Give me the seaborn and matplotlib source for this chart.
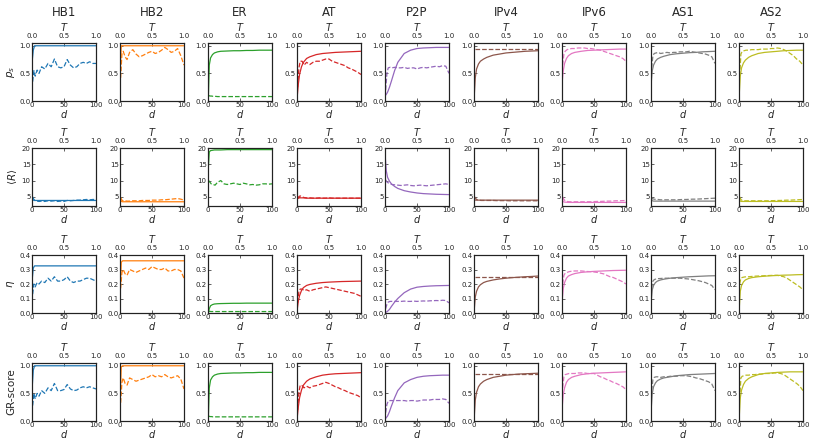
import matplotlib
matplotlib.use("Agg")
import matplotlib.pyplot as plt
import seaborn as sns

# sample positions: solid curves are plotted against T (top axis), dashed against d (bottom axis)
T_PTS = [0.005, 0.02, 0.04, 0.07, 0.1, 0.15, 0.2, 0.3, 0.4, 0.5, 0.6, 0.7, 0.8, 0.9, 1.0]
D_PTS = [1, 3, 5, 8, 11, 15, 20, 25, 30, 35, 40, 45, 50, 55, 60, 65, 70, 75, 80, 85, 90, 95, 100]

NETWORKS = ["HB1", "HB2", "ER", "AT", "P2P", "IPv4", "IPv6", "AS1", "AS2"]
YLABELS = ["$p_s$", r"$\langle R\rangle$", r"$\eta$", "GR-score"]

# HB1
hb1_ps_T = [0.75, 0.92, 1.0, 1.0, 1.0, 1.0, 1.0, 1.0, 1.0, 1.0, 1.0, 1.0, 1.0, 1.0, 1.0]
hb1_ps_d = [0.35, 0.55, 0.45, 0.56, 0.50, 0.62, 0.58, 0.68, 0.62, 0.76, 0.62, 0.60, 0.62, 0.75, 0.65, 0.60, 0.62, 0.68, 0.70, 0.68, 0.71, 0.68, 0.68]
hb1_R_T = [4.4, 4.0, 3.9, 3.9, 3.9, 3.9, 3.9, 3.9, 3.9, 3.9, 3.9, 3.9, 3.9, 3.9, 3.9]
hb1_R_d = [5.0, 4.2, 3.8, 3.7, 3.6, 3.7, 3.6, 3.8, 3.7, 3.8, 3.6, 3.7, 3.6, 3.9, 3.8, 3.9, 4.0, 4.0, 4.1, 4.2, 4.1, 4.2, 4.2]
hb1_eta_T = [0.24, 0.31, 0.325, 0.325, 0.325, 0.325, 0.325, 0.325, 0.325, 0.325, 0.325, 0.325, 0.325, 0.325, 0.325]
hb1_eta_d = [0.13, 0.20, 0.18, 0.21, 0.20, 0.22, 0.21, 0.24, 0.22, 0.25, 0.22, 0.22, 0.23, 0.25, 0.22, 0.21, 0.22, 0.22, 0.23, 0.24, 0.24, 0.23, 0.22]
hb1_gr_T = [0.65, 0.92, 1.0, 1.0, 1.0, 1.0, 1.0, 1.0, 1.0, 1.0, 1.0, 1.0, 1.0, 1.0, 1.0]
hb1_gr_d = [0.28, 0.50, 0.40, 0.50, 0.45, 0.55, 0.50, 0.60, 0.55, 0.68, 0.55, 0.55, 0.57, 0.66, 0.58, 0.55, 0.56, 0.60, 0.62, 0.60, 0.62, 0.60, 0.58]

# HB2
hb2_ps_T = [0.60, 1.0, 1.0, 1.0, 1.0, 1.0, 1.0, 1.0, 1.0, 1.0, 1.0, 1.0, 1.0, 1.0, 1.0]
hb2_ps_d = [0.42, 0.85, 0.90, 0.80, 0.75, 0.88, 0.93, 0.85, 0.80, 0.82, 0.85, 0.88, 0.90, 0.86, 0.88, 0.92, 0.97, 0.93, 0.88, 0.90, 0.95, 0.82, 0.65]
hb2_R_T = [4.5, 3.6, 3.5, 3.5, 3.5, 3.5, 3.5, 3.5, 3.5, 3.5, 3.5, 3.5, 3.5, 3.5, 3.5]
hb2_R_d = [4.8, 4.0, 3.8, 3.8, 3.7, 3.7, 3.8, 3.8, 3.8, 3.9, 3.9, 3.9, 4.0, 4.0, 4.0, 4.1, 4.1, 4.2, 4.3, 4.4, 4.5, 4.3, 4.0]
hb2_eta_T = [0.17, 0.35, 0.36, 0.36, 0.36, 0.36, 0.36, 0.36, 0.36, 0.36, 0.36, 0.36, 0.36, 0.36, 0.36]
hb2_eta_d = [0.17, 0.28, 0.30, 0.27, 0.26, 0.30, 0.29, 0.28, 0.29, 0.30, 0.31, 0.30, 0.32, 0.31, 0.30, 0.30, 0.31, 0.29, 0.29, 0.30, 0.30, 0.29, 0.24]
hb2_gr_T = [0.50, 0.98, 1.0, 1.0, 1.0, 1.0, 1.0, 1.0, 1.0, 1.0, 1.0, 1.0, 1.0, 1.0, 1.0]
hb2_gr_d = [0.33, 0.70, 0.78, 0.68, 0.65, 0.78, 0.75, 0.72, 0.74, 0.76, 0.78, 0.80, 0.84, 0.80, 0.82, 0.80, 0.84, 0.80, 0.78, 0.80, 0.82, 0.76, 0.58]

# ER
er_ps_T = [0.05, 0.65, 0.78, 0.84, 0.87, 0.89, 0.90, 0.905, 0.91, 0.91, 0.915, 0.915, 0.92, 0.92, 0.92]
er_ps_d = [0.10, 0.09, 0.09, 0.085, 0.085, 0.08, 0.08, 0.08, 0.08, 0.08, 0.08, 0.08, 0.08, 0.08, 0.08, 0.08, 0.08, 0.08, 0.08, 0.08, 0.08, 0.08, 0.08]
er_R_T = [14.0, 18.8, 19.2, 19.3, 19.4, 19.4, 19.4, 19.5, 19.5, 19.5, 19.5, 19.5, 19.5, 19.5, 19.5]
er_R_d = [10.0, 9.5, 9.0, 8.8, 8.6, 9.5, 10.0, 9.0, 8.8, 9.0, 9.2, 9.0, 8.8, 9.2, 9.0, 8.7, 8.8, 8.6, 8.7, 9.0, 9.0, 8.9, 9.0]
er_eta_T = [0.0, 0.03, 0.05, 0.058, 0.062, 0.064, 0.065, 0.066, 0.067, 0.067, 0.068, 0.068, 0.068, 0.068, 0.068]
er_eta_d = [0.012, 0.011, 0.01, 0.01, 0.01, 0.01, 0.01, 0.01, 0.01, 0.01, 0.01, 0.01, 0.01, 0.01, 0.01, 0.01, 0.01, 0.01, 0.01, 0.01, 0.01, 0.01, 0.01]
er_gr_T = [0.05, 0.60, 0.74, 0.80, 0.83, 0.85, 0.86, 0.865, 0.87, 0.87, 0.875, 0.875, 0.88, 0.88, 0.88]
er_gr_d = [0.09, 0.08, 0.08, 0.075, 0.075, 0.075, 0.075, 0.075, 0.075, 0.075, 0.075, 0.075, 0.075, 0.075, 0.075, 0.075, 0.075, 0.075, 0.075, 0.075, 0.075, 0.075, 0.075]

# AT
at_ps_T = [0.10, 0.30, 0.48, 0.62, 0.70, 0.77, 0.80, 0.84, 0.86, 0.87, 0.88, 0.885, 0.89, 0.895, 0.90]
at_ps_d = [0.25, 0.60, 0.72, 0.72, 0.65, 0.70, 0.66, 0.70, 0.72, 0.72, 0.74, 0.76, 0.76, 0.72, 0.70, 0.68, 0.66, 0.64, 0.60, 0.58, 0.55, 0.52, 0.48]
at_R_T = [4.4, 4.6, 4.7, 4.7, 4.7, 4.6, 4.6, 4.6, 4.6, 4.6, 4.6, 4.6, 4.6, 4.6, 4.6]
at_R_d = [4.5, 5.1, 5.3, 5.0, 4.8, 4.7, 4.7, 4.6, 4.6, 4.7, 4.6, 4.6, 4.7, 4.6, 4.6, 4.6, 4.6, 4.6, 4.6, 4.6, 4.6, 4.6, 4.6]
at_eta_T = [0.03, 0.08, 0.12, 0.155, 0.175, 0.19, 0.197, 0.205, 0.21, 0.213, 0.215, 0.217, 0.218, 0.219, 0.22]
at_eta_d = [0.07, 0.15, 0.165, 0.165, 0.155, 0.16, 0.15, 0.16, 0.165, 0.17, 0.175, 0.18, 0.175, 0.17, 0.165, 0.16, 0.155, 0.15, 0.145, 0.14, 0.135, 0.125, 0.115]
at_gr_T = [0.08, 0.25, 0.42, 0.56, 0.65, 0.72, 0.76, 0.80, 0.83, 0.845, 0.855, 0.86, 0.865, 0.87, 0.875]
at_gr_d = [0.20, 0.52, 0.65, 0.64, 0.60, 0.63, 0.60, 0.63, 0.64, 0.66, 0.68, 0.70, 0.68, 0.65, 0.62, 0.60, 0.57, 0.55, 0.52, 0.50, 0.48, 0.46, 0.42]

# P2P
p2p_ps_T = [0.10, 0.12, 0.16, 0.25, 0.36, 0.55, 0.70, 0.86, 0.92, 0.95, 0.96, 0.965, 0.97, 0.97, 0.97]
p2p_ps_d = [0.20, 0.50, 0.60, 0.61, 0.60, 0.61, 0.60, 0.60, 0.61, 0.59, 0.60, 0.60, 0.58, 0.60, 0.61, 0.60, 0.61, 0.62, 0.63, 0.62, 0.64, 0.63, 0.50]
p2p_R_T = [17.0, 13.0, 11.0, 9.8, 9.0, 8.2, 7.6, 6.9, 6.5, 6.2, 6.0, 5.9, 5.8, 5.75, 5.7]
p2p_R_d = [10.2, 9.6, 9.3, 9.0, 8.8, 8.7, 8.6, 8.5, 8.6, 8.7, 8.5, 8.4, 8.5, 8.6, 8.5, 8.4, 8.5, 8.6, 8.7, 8.8, 8.9, 9.0, 8.8]
p2p_eta_T = [0.003, 0.006, 0.012, 0.025, 0.045, 0.075, 0.10, 0.14, 0.165, 0.178, 0.183, 0.186, 0.188, 0.189, 0.19]
p2p_eta_d = [0.03, 0.06, 0.075, 0.08, 0.08, 0.08, 0.08, 0.08, 0.082, 0.08, 0.08, 0.082, 0.08, 0.082, 0.083, 0.082, 0.084, 0.085, 0.086, 0.085, 0.088, 0.086, 0.07]
p2p_gr_T = [0.04, 0.06, 0.09, 0.17, 0.27, 0.42, 0.55, 0.69, 0.75, 0.79, 0.81, 0.82, 0.825, 0.83, 0.83]
p2p_gr_d = [0.15, 0.30, 0.36, 0.37, 0.37, 0.37, 0.37, 0.37, 0.37, 0.36, 0.37, 0.37, 0.36, 0.37, 0.38, 0.38, 0.38, 0.39, 0.39, 0.39, 0.40, 0.39, 0.32]

# IPv4
ipv4_ps_T = [0.12, 0.42, 0.58, 0.67, 0.72, 0.76, 0.79, 0.83, 0.85, 0.87, 0.88, 0.89, 0.90, 0.905, 0.91]
ipv4_ps_d = [0.94, 0.94, 0.94, 0.94, 0.94, 0.94, 0.94, 0.94, 0.94, 0.94, 0.94, 0.94, 0.94, 0.94, 0.94, 0.94, 0.94, 0.94, 0.94, 0.94, 0.94, 0.94, 0.94]
ipv4_R_T = [4.3, 4.0, 4.0, 4.0, 4.0, 4.0, 4.0, 4.0, 4.0, 4.0, 4.0, 4.0, 4.0, 4.0, 4.0]
ipv4_R_d = [5.0, 4.4, 4.1, 4.0, 3.9, 3.9, 3.9, 3.9, 3.9, 3.85, 3.85, 3.85, 3.85, 3.8, 3.8, 3.8, 3.8, 3.8, 3.8, 3.8, 3.8, 3.8, 3.8]
ipv4_eta_T = [0.03, 0.11, 0.15, 0.18, 0.195, 0.21, 0.218, 0.228, 0.235, 0.24, 0.244, 0.247, 0.25, 0.252, 0.255]
ipv4_eta_d = [0.25, 0.25, 0.25, 0.25, 0.25, 0.25, 0.25, 0.25, 0.25, 0.25, 0.25, 0.25, 0.25, 0.25, 0.25, 0.25, 0.25, 0.25, 0.25, 0.25, 0.25, 0.25, 0.25]
ipv4_gr_T = [0.10, 0.38, 0.52, 0.62, 0.67, 0.72, 0.75, 0.79, 0.81, 0.83, 0.84, 0.85, 0.855, 0.86, 0.865]
ipv4_gr_d = [0.85, 0.85, 0.85, 0.85, 0.85, 0.85, 0.85, 0.85, 0.85, 0.85, 0.85, 0.85, 0.85, 0.85, 0.85, 0.85, 0.85, 0.85, 0.85, 0.85, 0.85, 0.85, 0.85]

# IPv6
ipv6_ps_T = [0.37, 0.55, 0.68, 0.77, 0.82, 0.86, 0.88, 0.90, 0.915, 0.92, 0.925, 0.93, 0.935, 0.94, 0.94]
ipv6_ps_d = [0.65, 0.85, 0.90, 0.93, 0.94, 0.95, 0.95, 0.96, 0.96, 0.96, 0.95, 0.95, 0.94, 0.93, 0.92, 0.90, 0.88, 0.86, 0.84, 0.82, 0.80, 0.77, 0.72]
ipv6_R_T = [4.2, 3.5, 3.4, 3.35, 3.3, 3.3, 3.3, 3.3, 3.3, 3.3, 3.3, 3.3, 3.3, 3.3, 3.3]
ipv6_R_d = [5.0, 4.2, 3.8, 3.6, 3.5, 3.5, 3.5, 3.5, 3.5, 3.5, 3.5, 3.5, 3.55, 3.6, 3.6, 3.65, 3.7, 3.7, 3.75, 3.8, 3.8, 3.85, 3.9]
ipv6_eta_T = [0.10, 0.17, 0.21, 0.24, 0.255, 0.265, 0.272, 0.28, 0.284, 0.287, 0.289, 0.291, 0.293, 0.294, 0.295]
ipv6_eta_d = [0.20, 0.26, 0.275, 0.28, 0.285, 0.288, 0.29, 0.29, 0.29, 0.288, 0.286, 0.285, 0.283, 0.28, 0.275, 0.27, 0.26, 0.25, 0.245, 0.235, 0.225, 0.215, 0.20]
ipv6_gr_T = [0.28, 0.48, 0.60, 0.70, 0.75, 0.79, 0.81, 0.84, 0.855, 0.865, 0.87, 0.875, 0.88, 0.885, 0.89]
ipv6_gr_d = [0.60, 0.80, 0.84, 0.85, 0.86, 0.86, 0.86, 0.87, 0.87, 0.87, 0.86, 0.86, 0.86, 0.83, 0.80, 0.78, 0.75, 0.73, 0.70, 0.68, 0.65, 0.62, 0.57]

# AS1
as1_ps_T = [0.35, 0.55, 0.65, 0.72, 0.76, 0.79, 0.81, 0.84, 0.855, 0.865, 0.875, 0.88, 0.89, 0.895, 0.90]
as1_ps_d = [0.60, 0.82, 0.86, 0.87, 0.88, 0.86, 0.87, 0.88, 0.87, 0.88, 0.88, 0.89, 0.89, 0.89, 0.90, 0.89, 0.88, 0.87, 0.86, 0.85, 0.83, 0.80, 0.68]
as1_R_T = [4.5, 3.8, 3.7, 3.7, 3.7, 3.7, 3.7, 3.7, 3.7, 3.7, 3.7, 3.7, 3.7, 3.7, 3.7]
as1_R_d = [4.8, 4.4, 4.3, 4.2, 4.2, 4.1, 4.1, 4.1, 4.1, 4.1, 4.1, 4.15, 4.2, 4.2, 4.25, 4.3, 4.3, 4.35, 4.4, 4.45, 4.5, 4.55, 4.6]
as1_eta_T = [0.09, 0.16, 0.19, 0.21, 0.22, 0.228, 0.233, 0.24, 0.244, 0.247, 0.25, 0.252, 0.254, 0.256, 0.257]
as1_eta_d = [0.17, 0.22, 0.23, 0.235, 0.237, 0.238, 0.24, 0.24, 0.24, 0.24, 0.24, 0.24, 0.238, 0.236, 0.234, 0.23, 0.226, 0.222, 0.216, 0.21, 0.20, 0.19, 0.16]
as1_gr_T = [0.25, 0.50, 0.62, 0.69, 0.73, 0.76, 0.78, 0.80, 0.82, 0.83, 0.84, 0.845, 0.85, 0.855, 0.86]
as1_gr_d = [0.55, 0.75, 0.79, 0.80, 0.80, 0.79, 0.80, 0.80, 0.81, 0.81, 0.81, 0.82, 0.82, 0.82, 0.81, 0.80, 0.78, 0.77, 0.75, 0.73, 0.71, 0.67, 0.55]

# AS2
as2_ps_T = [0.15, 0.45, 0.60, 0.69, 0.74, 0.79, 0.82, 0.86, 0.88, 0.89, 0.90, 0.91, 0.915, 0.92, 0.92]
as2_ps_d = [0.45, 0.85, 0.90, 0.91, 0.92, 0.92, 0.93, 0.93, 0.93, 0.94, 0.94, 0.94, 0.95, 0.95, 0.96, 0.95, 0.93, 0.90, 0.86, 0.82, 0.76, 0.72, 0.65]
as2_R_T = [4.3, 3.7, 3.6, 3.6, 3.6, 3.6, 3.6, 3.6, 3.6, 3.6, 3.6, 3.6, 3.6, 3.6, 3.6]
as2_R_d = [5.0, 4.2, 3.9, 3.8, 3.8, 3.8, 3.8, 3.8, 3.8, 3.8, 3.8, 3.8, 3.85, 3.85, 3.9, 3.9, 3.95, 4.0, 4.0, 4.05, 4.1, 4.15, 4.2]
as2_eta_T = [0.04, 0.15, 0.19, 0.215, 0.228, 0.238, 0.244, 0.25, 0.254, 0.257, 0.259, 0.261, 0.262, 0.264, 0.265]
as2_eta_d = [0.20, 0.24, 0.245, 0.248, 0.25, 0.25, 0.252, 0.254, 0.255, 0.256, 0.257, 0.258, 0.259, 0.26, 0.26, 0.255, 0.25, 0.24, 0.225, 0.21, 0.195, 0.18, 0.16]
as2_gr_T = [0.10, 0.42, 0.56, 0.66, 0.72, 0.77, 0.80, 0.84, 0.86, 0.87, 0.88, 0.885, 0.89, 0.89, 0.89]
as2_gr_d = [0.40, 0.78, 0.81, 0.82, 0.83, 0.83, 0.84, 0.84, 0.85, 0.85, 0.86, 0.86, 0.86, 0.87, 0.87, 0.86, 0.84, 0.80, 0.76, 0.72, 0.68, 0.63, 0.55]

# rows: p_s, <R>, eta, GR-score ; each entry is (solid vs T, dashed vs d)
series = {
    "HB1": [(hb1_ps_T, hb1_ps_d), (hb1_R_T, hb1_R_d), (hb1_eta_T, hb1_eta_d), (hb1_gr_T, hb1_gr_d)],
    "HB2": [(hb2_ps_T, hb2_ps_d), (hb2_R_T, hb2_R_d), (hb2_eta_T, hb2_eta_d), (hb2_gr_T, hb2_gr_d)],
    "ER": [(er_ps_T, er_ps_d), (er_R_T, er_R_d), (er_eta_T, er_eta_d), (er_gr_T, er_gr_d)],
    "AT": [(at_ps_T, at_ps_d), (at_R_T, at_R_d), (at_eta_T, at_eta_d), (at_gr_T, at_gr_d)],
    "P2P": [(p2p_ps_T, p2p_ps_d), (p2p_R_T, p2p_R_d), (p2p_eta_T, p2p_eta_d), (p2p_gr_T, p2p_gr_d)],
    "IPv4": [(ipv4_ps_T, ipv4_ps_d), (ipv4_R_T, ipv4_R_d), (ipv4_eta_T, ipv4_eta_d), (ipv4_gr_T, ipv4_gr_d)],
    "IPv6": [(ipv6_ps_T, ipv6_ps_d), (ipv6_R_T, ipv6_R_d), (ipv6_eta_T, ipv6_eta_d), (ipv6_gr_T, ipv6_gr_d)],
    "AS1": [(as1_ps_T, as1_ps_d), (as1_R_T, as1_R_d), (as1_eta_T, as1_eta_d), (as1_gr_T, as1_gr_d)],
    "AS2": [(as2_ps_T, as2_ps_d), (as2_R_T, as2_R_d), (as2_eta_T, as2_eta_d), (as2_gr_T, as2_gr_d)],
}

sns.set_style("ticks", rc={
    "xtick.direction": "in",
    "ytick.direction": "in",
    "axes.edgecolor": "#222222",
    "axes.linewidth": 0.7,
})
plt.rcParams["font.family"] = ["DejaVu Sans"]

colors = sns.color_palette("tab10", 9)
ylims = [(0, 1.05), (2.2, 20), (0, 0.4), (0, 1.05)]
yticks = [[0, 0.5, 1.0], [5, 10, 15, 20], [0, 0.1, 0.2, 0.3, 0.4], [0, 0.5, 1.0]]
yfmt = ["{:.1f}", "{:d}", "{:.1f}", "{:.1f}"]

W, H = 814, 448
col_left = [32, 120, 208, 297, 385, 474, 562, 651, 739]
row_top = [43, 148, 255, 363]
pw, ph = 64, 58

fig = plt.figure(figsize=(W / 100, H / 100), dpi=100)

for j, net in enumerate(NETWORKS):
    c = colors[j]
    for i in range(4):
        solid, dashed = series[net][i]
        ax = fig.add_axes([col_left[j] / W, (H - row_top[i] - ph) / H, pw / W, ph / H])
        sns.lineplot(x=D_PTS, y=dashed, ax=ax, color=c, linestyle="--", lw=0.9)
        ax.set_xlim(0, 100)
        ax.set_ylim(*ylims[i])
        ax.set_xticks([0, 50, 100])
        ax.set_yticks(yticks[i])
        ax.set_yticklabels([yfmt[i].format(v) for v in yticks[i]])
        ax.tick_params(labelsize=5, length=2, width=0.5, pad=1, colors="#222222")
        ax.set_xlabel("$d$", fontsize=7, labelpad=-0.5)

        axT = ax.twiny()
        sns.lineplot(x=T_PTS, y=solid, ax=axT, color=c, lw=0.9)
        axT.set_xlim(0, 1)
        axT.set_xticks([0, 0.5, 1.0])
        axT.set_xticklabels(["0.0", "0.5", "1.0"])
        axT.tick_params(labelsize=5, length=2, width=0.5, pad=3, colors="#222222")
        axT.set_xlabel("$T$", fontsize=7, labelpad=1.5)
        axT.set_ylabel("")

        if j == 0:
            ax.set_ylabel(YLABELS[i], fontsize=7.5, labelpad=2)
        else:
            ax.set_ylabel("")

    fig.text((col_left[j] + pw / 2) / W, 1 - 12 / H, net, ha="center", va="center", fontsize=8.5)

plt.savefig("out.png", dpi=100)
